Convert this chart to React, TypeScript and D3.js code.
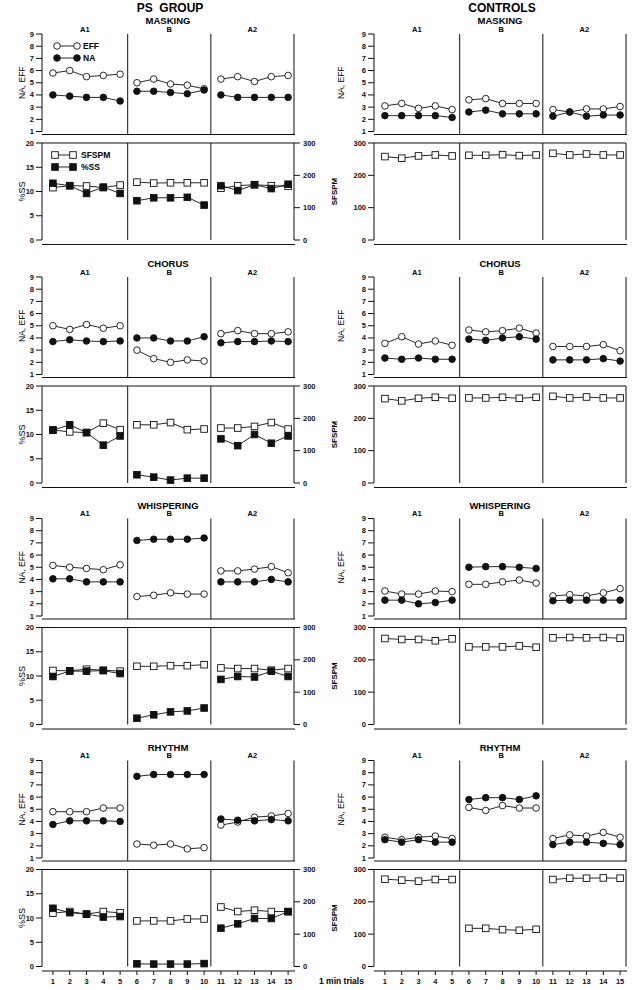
import React from 'react';
import * as d3 from 'd3';

const trials = [1, 2, 3, 4, 5, 6, 7, 8, 9, 10, 11, 12, 13, 14, 15];
const phases = ['A1', 'B', 'A2'];
const conditions = ['MASKING', 'CHORUS', 'WHISPERING', 'RHYTHM'];
const groups = ['PS  GROUP', 'CONTROLS'];
const naEffTicks = [1, 2, 3, 4, 5, 6, 7, 8, 9];
const ssTicks = [0, 5, 10, 15, 20];
const sfspmTicks = [0, 100, 200, 300];

// PS group
const psMaskingEFF = [5.8, 6.0, 5.5, 5.6, 5.7, 5.0, 5.3, 4.9, 4.8, 4.5, 5.3, 5.5, 5.1, 5.5, 5.6];
const psMaskingNA = [4.0, 3.9, 3.8, 3.8, 3.5, 4.3, 4.3, 4.2, 4.1, 4.4, 4.0, 3.8, 3.8, 3.8, 3.8];
const psMaskingSS = [11.7, 11.2, 9.6, 10.9, 9.6, 8.1, 8.7, 8.7, 8.8, 7.2, 11.2, 10.2, 11.4, 10.6, 11.5];
const psMaskingSFSPM = [162, 168, 167, 162, 170, 179, 176, 177, 177, 177, 160, 168, 171, 168, 166];

const psChorusEFF = [5.0, 4.7, 5.1, 4.8, 5.0, 3.0, 2.3, 2.0, 2.2, 2.1, 4.35, 4.6, 4.35, 4.35, 4.5];
const psChorusNA = [3.7, 3.85, 3.75, 3.7, 3.75, 4.0, 4.0, 3.75, 3.75, 4.1, 3.6, 3.7, 3.7, 3.75, 3.7];
const psChorusSS = [10.9, 12.0, 10.4, 7.8, 9.7, 1.7, 1.2, 0.6, 1.0, 1.0, 9.1, 7.7, 10.0, 8.2, 9.7];
const psChorusSFSPM = [164, 158, 156, 185, 165, 180, 180, 187, 165, 167, 170, 170, 175, 187, 167];

const psWhisperingEFF = [5.15, 5.0, 4.9, 4.8, 5.2, 2.6, 2.7, 2.9, 2.8, 2.8, 4.7, 4.7, 4.85, 5.05, 4.55];
const psWhisperingNA = [4.05, 4.05, 3.8, 3.8, 3.8, 7.2, 7.3, 7.3, 7.3, 7.4, 3.8, 3.8, 3.8, 4.0, 3.8];
const psWhisperingSS = [9.9, 11.0, 11.0, 11.1, 10.5, 1.3, 2.0, 2.6, 2.8, 3.4, 9.3, 9.9, 9.8, 11.0, 9.9];
const psWhisperingSFSPM = [167, 166, 171, 168, 165, 180, 180, 182, 182, 185, 175, 173, 173, 168, 173];

const psRhythmEFF = [4.8, 4.8, 4.8, 5.1, 5.1, 2.15, 2.05, 2.15, 1.75, 1.85, 3.7, 3.95, 4.35, 4.45, 4.65];
const psRhythmNA = [3.75, 4.05, 4.05, 4.05, 4.0, 7.7, 7.85, 7.85, 7.85, 7.85, 4.2, 4.1, 4.05, 4.15, 4.05];
const psRhythmSS = [12.0, 11.1, 10.8, 10.2, 10.3, 0.55, 0.5, 0.5, 0.5, 0.6, 7.9, 8.8, 9.9, 9.9, 11.3];
const psRhythmSFSPM = [165, 170, 162, 170, 166, 141, 141, 141, 147, 147, 184, 170, 174, 170, 170];

// Controls
const ctrlMaskingEFF = [3.1, 3.3, 2.9, 3.1, 2.8, 3.6, 3.7, 3.3, 3.3, 3.3, 2.8, 2.6, 2.85, 2.85, 3.05];
const ctrlMaskingNA = [2.3, 2.3, 2.3, 2.3, 2.15, 2.6, 2.75, 2.45, 2.45, 2.45, 2.25, 2.6, 2.25, 2.35, 2.35];
const ctrlMaskingSFSPM = [258, 253, 260, 263, 260, 262, 262, 264, 261, 263, 268, 263, 266, 263, 263];

const ctrlChorusEFF = [3.55, 4.1, 3.5, 3.75, 3.4, 4.65, 4.5, 4.6, 4.8, 4.4, 3.3, 3.3, 3.3, 3.45, 2.95];
const ctrlChorusNA = [2.35, 2.25, 2.35, 2.25, 2.25, 3.9, 3.8, 4.0, 4.1, 3.9, 2.2, 2.2, 2.2, 2.3, 2.1];
const ctrlChorusSFSPM = [261, 254, 262, 265, 262, 263, 263, 265, 262, 265, 268, 263, 266, 263, 263];

const ctrlWhisperingEFF = [3.05, 2.8, 2.8, 3.05, 3.0, 3.6, 3.6, 3.8, 3.95, 3.7, 2.65, 2.75, 2.65, 2.9, 3.25];
const ctrlWhisperingNA = [2.3, 2.3, 2.0, 2.1, 2.3, 5.0, 5.05, 5.05, 5.0, 4.9, 2.25, 2.3, 2.3, 2.3, 2.3];
const ctrlWhisperingSFSPM = [266, 263, 263, 259, 265, 240, 240, 240, 243, 239, 268, 269, 268, 269, 267];

const ctrlRhythmEFF = [2.7, 2.5, 2.7, 2.8, 2.6, 5.15, 4.9, 5.3, 5.1, 5.1, 2.6, 2.9, 2.8, 3.1, 2.7];
const ctrlRhythmNA = [2.5, 2.3, 2.5, 2.3, 2.3, 5.8, 5.95, 5.95, 5.8, 6.1, 2.1, 2.3, 2.3, 2.2, 2.1];
const ctrlRhythmSFSPM = [270, 267, 264, 269, 269, 118, 118, 114, 112, 115, 269, 273, 273, 274, 273];

const psData = [
  { eff: psMaskingEFF, na: psMaskingNA, ss: psMaskingSS, sf: psMaskingSFSPM },
  { eff: psChorusEFF, na: psChorusNA, ss: psChorusSS, sf: psChorusSFSPM },
  { eff: psWhisperingEFF, na: psWhisperingNA, ss: psWhisperingSS, sf: psWhisperingSFSPM },
  { eff: psRhythmEFF, na: psRhythmNA, ss: psRhythmSS, sf: psRhythmSFSPM },
];
const ctrlData = [
  { eff: ctrlMaskingEFF, na: ctrlMaskingNA, sf: ctrlMaskingSFSPM },
  { eff: ctrlChorusEFF, na: ctrlChorusNA, sf: ctrlChorusSFSPM },
  { eff: ctrlWhisperingEFF, na: ctrlWhisperingNA, sf: ctrlWhisperingSFSPM },
  { eff: ctrlRhythmEFF, na: ctrlRhythmNA, sf: ctrlRhythmSFSPM },
];

const W = 636;
const H = 990;
const FONT = '"Liberation Sans", Arial, Helvetica, sans-serif';
const colX = [42, 374];
const PW = 252;
const condTop = [34, 277, 518.5, 760.5];
const TOP_H = 97.5;
const BOT_Y0 = 109;
const BOT_H = 97;
const dividers = [5.45, 10.4];
const R = 3.3;
const SQ = 6.6;
const SW = 0.9;

function Circle({ cx, cy, filled }: { cx: number; cy: number; filled: boolean }) {
  return <circle cx={cx} cy={cy} r={R} fill={filled ? '#111' : '#fff'} stroke="#111" strokeWidth={SW} />;
}
function Square({ cx, cy, filled }: { cx: number; cy: number; filled: boolean }) {
  return (
    <rect x={cx - SQ / 2} y={cy - SQ / 2} width={SQ} height={SQ} fill={filled ? '#111' : '#fff'} stroke="#111" strokeWidth={SW} />
  );
}

function Series({ values, xs, ys, shape, filled }: any) {
  const segs = phases.map((_, p) => values.slice(p * 5, p * 5 + 5));
  return (
    <g>
      {segs.map((seg: number[], p: number) => {
        const l = d3
          .line<number>()
          .x((_, i) => xs(trials[p * 5 + i]))
          .y((d) => ys(d));
        return <path key={p} d={l(seg) || ''} fill="none" stroke="#111" strokeWidth={SW} />;
      })}
      {values.map((v: number, i: number) =>
        shape === 'circle' ? (
          <Circle key={i} cx={xs(trials[i])} cy={ys(v)} filled={filled} />
        ) : (
          <Square key={i} cx={xs(trials[i])} cy={ys(v)} filled={filled} />
        )
      )}
    </g>
  );
}

function Block({ col, ci, data }: { col: number; ci: number; data: any }) {
  const x0 = colX[col];
  const x1 = x0 + PW;
  const T = condTop[ci];
  const isPS = col === 0;
  const isLast = ci === conditions.length - 1;
  const xs = d3.scaleLinear().domain([0.35, 15.35]).range([x0, x1]);
  const yTop = d3.scaleLinear().domain([1, 9]).range([T + TOP_H, T]);
  const yB0 = T + BOT_Y0;
  const yB1 = T + BOT_Y0 + BOT_H;
  const ySS = d3.scaleLinear().domain([0, 20]).range([yB1, yB0]);
  const ySF = d3.scaleLinear().domain([0, 300]).range([yB1, yB0]);
  const divX = dividers.map((d) => xs(d));
  const bounds = [x0, divX[0], divX[1], x1];
  const tickFont = { fontFamily: FONT, fontSize: 7.5, fontWeight: 700 as any, fill: '#111' };
  const topXLine = T + TOP_H + 3;
  const botXLine = yB1 + 4.5;
  const leftTitleX = isPS ? x0 - 20 : x0 - 33;
  const botLeftTitleX = isPS ? x0 - 20 : x0 - 40;
  return (
    <g>
      {/* titles */}
      <text x={(x0 + x1) / 2} y={T - 13.5} textAnchor="middle" dominantBaseline="central" style={{ fontFamily: FONT, fontSize: 9.5, fontWeight: 700 }}>
        {conditions[ci]}
      </text>
      {phases.map((p, i) => (
        <text key={p} x={(bounds[i] + bounds[i + 1]) / 2} y={T - 5} textAnchor="middle" dominantBaseline="central" style={{ fontFamily: FONT, fontSize: 7.5, fontWeight: 700 }}>
          {p}
        </text>
      ))}
      {/* top panel frame */}
      <line x1={x0} x2={x0} y1={T} y2={T + TOP_H} stroke="#111" strokeWidth={1} />
      {naEffTicks.map((t) => (
        <g key={t}>
          <line x1={x0 - 6} x2={x0} y1={yTop(t)} y2={yTop(t)} stroke="#111" strokeWidth={1} />
          <text x={x0 - 8} y={yTop(t)} textAnchor="end" dominantBaseline="central" style={tickFont}>
            {t}
          </text>
        </g>
      ))}
      {divX.concat([x1]).map((dx, i) => (
        <line key={i} x1={dx} x2={dx} y1={T} y2={topXLine} stroke="#111" strokeWidth={1} />
      ))}
      <line x1={x0} x2={x1 + 1} y1={topXLine} y2={topXLine} stroke="#111" strokeWidth={1.2} />
      <text transform={`translate(${leftTitleX},${T + TOP_H / 2}) rotate(-90)`} textAnchor="middle" dominantBaseline="central" style={{ fontFamily: FONT, fontSize: 8.5 }}>
        NA,  EFF
      </text>
      {/* bottom panel frame */}
      <line x1={x0} x2={x1} y1={yB0} y2={yB0} stroke="#111" strokeWidth={1} />
      <line x1={x0} x2={x0} y1={yB0} y2={yB1} stroke="#111" strokeWidth={1} />
      {(isPS ? ssTicks : sfspmTicks).map((t) => {
        const y = isPS ? ySS(t) : ySF(t);
        return (
          <g key={t}>
            <line x1={x0 - 6} x2={x0} y1={y} y2={y} stroke="#111" strokeWidth={1} />
            <text x={x0 - 8} y={y} textAnchor="end" dominantBaseline="central" style={tickFont}>
              {t}
            </text>
          </g>
        );
      })}
      {divX.concat([x1]).map((dx, i) => (
        <line key={i} x1={dx} x2={dx} y1={yB0} y2={yB1} stroke="#111" strokeWidth={1} />
      ))}
      {isPS &&
        sfspmTicks.map((t) => (
          <g key={t}>
            <line x1={x1} x2={x1 + 6} y1={ySF(t)} y2={ySF(t)} stroke="#111" strokeWidth={1} />
            <text x={x1 + 9} y={ySF(t)} textAnchor="start" dominantBaseline="central" style={tickFont}>
              {t}
            </text>
          </g>
        ))}
      <line x1={x0} x2={x1 + 1} y1={botXLine} y2={botXLine} stroke="#111" strokeWidth={1.2} />
      <text
        transform={`translate(${botLeftTitleX},${(yB0 + yB1) / 2}) rotate(-90)`}
        textAnchor="middle"
        dominantBaseline="central"
        style={{ fontFamily: FONT, fontSize: isPS ? 9 : 8, fontWeight: isPS ? 400 : 700 }}
      >
        {isPS ? '%SS' : 'SFSPM'}
      </text>
      {isLast &&
        trials.map((t) => (
          <g key={t}>
            <line x1={xs(t)} x2={xs(t)} y1={botXLine} y2={botXLine + 4} stroke="#111" strokeWidth={1} />
            <text x={xs(t)} y={botXLine + 10} textAnchor="middle" dominantBaseline="central" style={tickFont}>
              {t}
            </text>
          </g>
        ))}
      {/* data */}
      <Series values={data.eff} xs={xs} ys={yTop} shape="circle" filled={false} />
      <Series values={data.na} xs={xs} ys={yTop} shape="circle" filled={true} />
      <Series values={data.sf} xs={xs} ys={ySF} shape="square" filled={false} />
      {isPS && <Series values={data.ss} xs={xs} ys={ySS} shape="square" filled={true} />}
      {/* legends */}
      {isPS && ci === 0 && (
        <g>
          <line x1={x0 + 15} x2={x0 + 35} y1={T + 12} y2={T + 12} stroke="#111" strokeWidth={SW} />
          <Circle cx={x0 + 15} cy={T + 12} filled={false} />
          <Circle cx={x0 + 35} cy={T + 12} filled={false} />
          <text x={x0 + 41} y={T + 12} dominantBaseline="central" style={{ fontFamily: FONT, fontSize: 8.5, fontWeight: 700 }}>
            EFF
          </text>
          <line x1={x0 + 15} x2={x0 + 35} y1={T + 24} y2={T + 24} stroke="#111" strokeWidth={SW} />
          <Circle cx={x0 + 15} cy={T + 24} filled={true} />
          <Circle cx={x0 + 35} cy={T + 24} filled={true} />
          <text x={x0 + 41} y={T + 24} dominantBaseline="central" style={{ fontFamily: FONT, fontSize: 8.5, fontWeight: 700 }}>
            NA
          </text>
          <line x1={x0 + 13} x2={x0 + 31} y1={yB0 + 12} y2={yB0 + 12} stroke="#111" strokeWidth={SW} />
          <Square cx={x0 + 13} cy={yB0 + 12} filled={false} />
          <Square cx={x0 + 31} cy={yB0 + 12} filled={false} />
          <text x={x0 + 39} y={yB0 + 12} dominantBaseline="central" style={{ fontFamily: FONT, fontSize: 8.5, fontWeight: 700 }}>
            SFSPM
          </text>
          <line x1={x0 + 13} x2={x0 + 31} y1={yB0 + 24} y2={yB0 + 24} stroke="#111" strokeWidth={SW} />
          <Square cx={x0 + 13} cy={yB0 + 24} filled={true} />
          <Square cx={x0 + 31} cy={yB0 + 24} filled={true} />
          <text x={x0 + 39} y={yB0 + 24} dominantBaseline="central" style={{ fontFamily: FONT, fontSize: 8.5, fontWeight: 700 }}>
            %SS
          </text>
        </g>
      )}
      {!isPS && isLast && (
        <text x={319} y={botXLine + 10} dominantBaseline="central" style={{ fontFamily: FONT, fontSize: 8.5, fontWeight: 700 }}>
          1 min trials
        </text>
      )}
    </g>
  );
}

export default function App() {
  return (
    <svg width={W} height={H} viewBox={`0 0 ${W} ${H}`} style={{ position: 'absolute', left: 0, top: 0, background: '#fff' }}>
      <rect x={0} y={0} width={W} height={H} fill="#fff" />
      {groups.map((g, gi) => (
        <text key={g} x={colX[gi] + PW / 2 + 2} y={7.5} textAnchor="middle" dominantBaseline="central" style={{ fontFamily: FONT, fontSize: 12, fontWeight: 700, whiteSpace: 'pre' }}>
          {g}
        </text>
      ))}
      {conditions.map((c, ci) => (
        <Block key={'ps' + c} col={0} ci={ci} data={psData[ci]} />
      ))}
      {conditions.map((c, ci) => (
        <Block key={'ct' + c} col={1} ci={ci} data={ctrlData[ci]} />
      ))}
    </svg>
  );
}
